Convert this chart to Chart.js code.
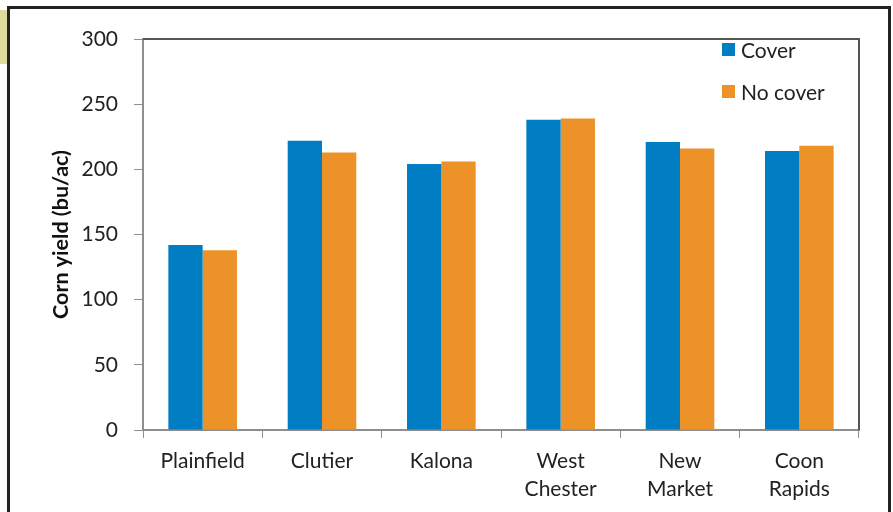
<!DOCTYPE html>
<html>
<head>
<meta charset="utf-8">
<script src="https://cdn.jsdelivr.net/npm/chart.js@4/dist/chart.umd.min.js"></script>
<style>
  html, body { margin: 0; padding: 0; background: #fff; }
  #wrap { position: relative; width: 893px; height: 512px; }
</style>
</head>
<body>
<div id="wrap"><canvas id="yieldChart" width="893" height="512"></canvas></div>
<script>
const sites = [['Plainfield'], ['Clutier'], ['Kalona'], ['West', 'Chester'], ['New', 'Market'], ['Coon', 'Rapids']];
const coverYield = [142, 222, 204, 238, 221, 214];
const noCoverYield = [138, 213, 206, 239, 216, 218];
const yTicks = [0, 50, 100, 150, 200, 250, 300];

const blue = 'rgb(0, 125, 195)';
const orange = 'rgb(237, 145, 41)';
const axisGray = '#8e8e8e';

// frame around the picture, plot box top/right, and the legend inside the plot
const decorations = {
    id: 'decorations',
    beforeDraw(chart) {
        const c = chart.ctx;
        c.save();
        c.fillStyle = '#fff';
        c.fillRect(0, 0, chart.width, chart.height);
        c.fillStyle = '#dcdc9c';
        c.fillRect(0, 10, 7, 54);
        c.strokeStyle = '#222';
        c.lineWidth = 3;
        c.beginPath();
        c.moveTo(8.5, 520);
        c.lineTo(8.5, 7.5);
        c.lineTo(889.5, 7.5);
        c.lineTo(889.5, 520);
        c.stroke();
        c.restore();
    },
    afterDraw(chart) {
        const c = chart.ctx;
        const a = chart.chartArea;
        c.save();
        c.strokeStyle = '#555';
        c.lineWidth = 2;
        c.beginPath();
        c.moveTo(a.left, a.top);
        c.lineTo(a.right, a.top);
        c.lineTo(a.right, a.bottom);
        c.stroke();

        c.font = '21px Lato';
        c.textBaseline = 'middle';
        c.textAlign = 'left';
        chart.data.datasets.forEach((ds, i) => {
            const y = 50 + i * 42;
            c.fillStyle = ds.backgroundColor;
            c.fillRect(722, y - 7, 13, 13);
            c.fillStyle = '#222';
            c.fillText(ds.label, 741, y + 1);
        });
        c.restore();
    }
};

const ctx = document.getElementById('yieldChart').getContext('2d');
const yieldChart = new Chart(ctx, {
    type: 'bar',
    data: {
        labels: sites,
        datasets: [
            { label: 'Cover', data: coverYield, backgroundColor: blue },
            { label: 'No cover', data: noCoverYield, backgroundColor: orange }
        ]
    },
    options: {
        responsive: false,
        animation: false,
        layout: { padding: { top: 39, right: 34, left: 0, bottom: 0 } },
        datasets: { bar: { categoryPercentage: 0.575, barPercentage: 1.0 } },
        plugins: {
            legend: { display: false },
            tooltip: { enabled: false }
        },
        scales: {
            x: {
                grid: { display: true, drawOnChartArea: false, tickLength: 8, color: axisGray, offset: true },
                border: { display: true, color: axisGray, width: 2 },
                ticks: { color: '#222', font: { family: 'Lato', size: 21, lineHeight: 1.3 }, padding: 10, maxRotation: 0, autoSkip: false },
                afterFit(scale) { scale.height = 82; }
            },
            y: {
                min: 0,
                max: 300,
                afterBuildTicks(scale) { scale.ticks = yTicks.map(v => ({ value: v })); },
                grid: { display: true, drawOnChartArea: false, tickLength: 9, color: axisGray },
                border: { display: true, color: axisGray, width: 2 },
                ticks: { color: '#222', font: { family: 'Lato', size: 21 }, padding: 16 },
                title: {
                    display: true,
                    text: 'Corn yield (bu/ac)',
                    color: '#111',
                    font: { family: 'Lato', size: 21.5, weight: 'bold' },
                    padding: { top: 48, bottom: 0 }
                },
                afterFit(scale) { scale.width = 143; }
            }
        }
    },
    plugins: [decorations]
});
</script>
</body>
</html>
